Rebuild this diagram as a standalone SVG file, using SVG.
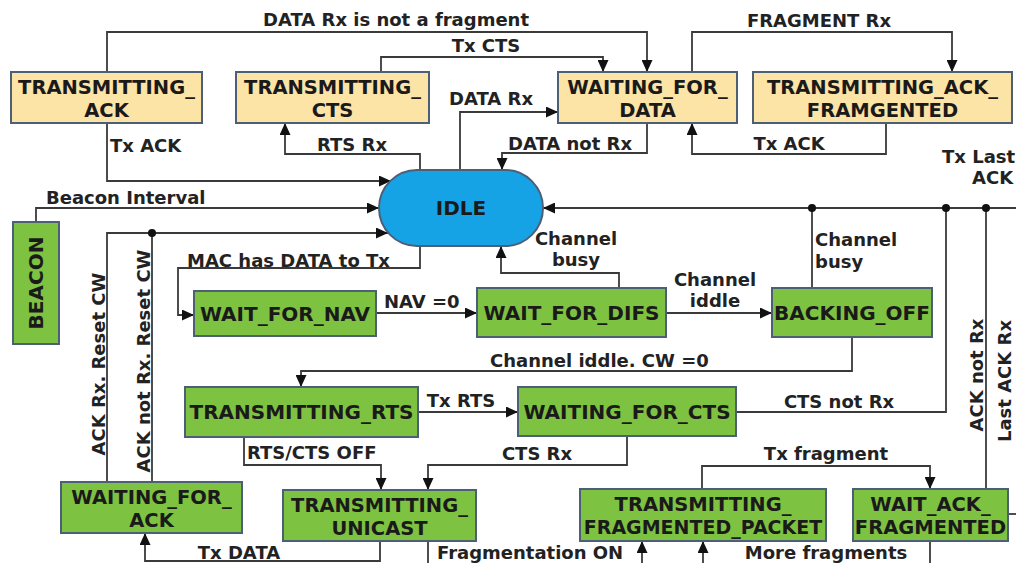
<svg xmlns="http://www.w3.org/2000/svg" width="1016" height="563" viewBox="0 0 1016 563">
<style>
.bg{fill:#ffffff}
.tan{fill:#fce3a6;stroke:#4d5f76;stroke-width:2}
.grn{fill:#7ec242;stroke:#4d5f76;stroke-width:2}
.blu{fill:#16a3e6;stroke:#4d5f76;stroke-width:2}
.nt{font-family:"DejaVu Sans",Verdana,sans-serif;font-weight:bold;font-size:20px;fill:#1a1a1a;text-anchor:middle}
.n2{font-size:19.5px}
.lb{font-family:"DejaVu Sans",Verdana,sans-serif;font-weight:bold;font-size:18px;fill:#222222}
.m{text-anchor:middle}
.ln{fill:none;stroke:#3a3a3a;stroke-width:1.8}
.ar{marker-end:url(#arr)}
.dot{fill:#111111}
</style>
<defs>
<marker id="arr" markerUnits="userSpaceOnUse" markerWidth="12" markerHeight="11" refX="12" refY="5.5" orient="auto">
<path d="M0,0 L12,5.5 L0,11 z" fill="#111111"/>
</marker>
</defs>
<rect class="bg" x="0" y="0" width="1016" height="563"/>

<g id="connectors">
<path class="ln ar" d="M107,72 V32 H647 V72"/>
<path class="ln ar" d="M381,72 V57 H603 V72"/>
<path class="ln ar" d="M692,72 V32 H952 V72"/>
<path class="ln ar" d="M886,123 V154 H692 V123"/>
<path class="ln ar" d="M647,123 V153 H502 V170"/>
<path class="ln ar" d="M460,172 V112 H558"/>
<path class="ln ar" d="M420,172 V154 H285 V123"/>
<path class="ln ar" d="M107,123 V181 H391"/>
<path class="ln ar" d="M36,222 V208 H379"/>
<path class="ln ar" d="M107,482 V233 H388"/>
<path class="ln" d="M152,482 V233"/>
<path class="ln ar" d="M420,244 V268 H178 V315 H194"/>
<path class="ln ar" d="M376,313 H477"/>
<path class="ln ar" d="M619,288 V273 H501 V246"/>
<path class="ln ar" d="M666,313 H772"/>
<path class="ln ar" d="M1016,208 H543"/>
<path class="ln" d="M812,288 V208"/>
<path class="ln" d="M736,412 H946 V208"/>
<path class="ln" d="M986,489 V208"/>
<path class="ln" d="M1008,514 H1016"/>
<path class="ln ar" d="M852,337 V371 H301 V387"/>
<path class="ln ar" d="M418,412 H518"/>
<path class="ln ar" d="M244,437 V465 H381 V490"/>
<path class="ln ar" d="M627,436 V465 H428 V490"/>
<path class="ln ar" d="M380,541 V561 H145 V533"/>
<path class="ln" d="M428,541 V563"/>
<path class="ln ar" d="M642,563 V541"/>
<path class="ln ar" d="M702,489 V466 H930 V489"/>
<path class="ln" d="M930,541 V563"/>
<path class="ln ar" d="M703,563 V541"/>
<circle class="dot" cx="152" cy="233" r="4"/>
<circle class="dot" cx="812" cy="208" r="4"/>
<circle class="dot" cx="946" cy="208" r="4"/>
<circle class="dot" cx="986" cy="208" r="4"/>

<text class="lb m" x="396" y="26">DATA Rx is not a fragment</text>
<text class="lb m" x="486" y="52">Tx CTS</text>
<text class="lb m" x="819" y="27">FRAGMENT Rx</text>
<text class="lb" x="110" y="152">Tx ACK</text>
<text class="lb m" x="352" y="151">RTS Rx</text>
<text class="lb" x="449" y="105">DATA Rx</text>
<text class="lb m" x="570" y="150">DATA not Rx</text>
<text class="lb m" x="789" y="150">Tx ACK</text>
<text class="lb"><tspan x="942" y="163">Tx Last</tspan><tspan x="972" y="184">ACK</tspan></text>
<text class="lb" x="46" y="204">Beacon Interval</text>
<text class="lb" x="187" y="267">MAC has DATA to Tx</text>
<text class="lb m"><tspan x="576" y="245">Channel</tspan><tspan x="576" y="266">busy</tspan></text>
<text class="lb" x="384" y="308">NAV =0</text>
<text class="lb m"><tspan x="715" y="286">Channel</tspan><tspan x="715" y="307">iddle</tspan></text>
<text class="lb"><tspan x="815" y="246">Channel</tspan><tspan x="815" y="268">busy</tspan></text>
<text class="lb" x="490" y="367">Channel iddle. CW =0</text>
<text class="lb m" transform="translate(105,364) rotate(-90)">ACK Rx. Reset CW</text>
<text class="lb m" transform="translate(150,361) rotate(-90)">ACK not Rx. Reset CW</text>
<text class="lb m" transform="translate(983,375) rotate(-90)">ACK not Rx</text>
<text class="lb m" transform="translate(1011,381) rotate(-90)">Last ACK Rx</text>
<text class="lb m" x="461" y="407">Tx RTS</text>
<text class="lb m" x="839" y="408">CTS not Rx</text>
<text class="lb" x="247" y="459">RTS/CTS OFF</text>
<text class="lb m" x="537" y="460">CTS Rx</text>
<text class="lb m" x="826" y="460">Tx fragment</text>
<text class="lb m" x="239" y="559">Tx DATA</text>
<text class="lb" x="437" y="559">Fragmentation ON</text>
<text class="lb m" x="826" y="559">More fragments</text>
</g>

<g id="transmitting_ack">
<rect class="tan" x="11" y="72" width="191" height="51"/>
<text class="nt n2"><tspan x="106.5" y="94">TRANSMITTING_</tspan><tspan x="106.5" y="117">ACK</tspan></text>
</g>
<g id="transmitting_cts">
<rect class="tan" x="236" y="72" width="193" height="51"/>
<text class="nt n2"><tspan x="332.5" y="94">TRANSMITTING_</tspan><tspan x="332.5" y="117">CTS</tspan></text>
</g>
<g id="waiting_for_data">
<rect class="tan" x="558" y="72" width="179" height="51"/>
<text class="nt n2"><tspan x="647.5" y="94">WAITING_FOR_</tspan><tspan x="647.5" y="117">DATA</tspan></text>
</g>
<g id="transmitting_ack_framgented">
<rect class="tan" x="753" y="72" width="259" height="51"/>
<text class="nt n2"><tspan x="882.5" y="94">TRANSMITTING_ACK_</tspan><tspan x="882.5" y="117">FRAMGENTED</tspan></text>
</g>
<g id="idle">
<rect class="blu" x="379" y="170" width="164" height="76" rx="38" ry="38"/>
<text class="nt" x="461" y="215">IDLE</text>
</g>
<g id="beacon">
<rect class="grn" x="13" y="222" width="46" height="122"/>
<text class="nt" transform="translate(43,283) rotate(-90)">BEACON</text>
</g>
<g id="wait_for_nav">
<rect class="grn" x="194" y="291" width="182" height="45"/>
<text class="nt" x="285" y="320.5">WAIT_FOR_NAV</text>
</g>
<g id="wait_for_difs">
<rect class="grn" x="477" y="288" width="189" height="49"/>
<text class="nt" x="571.5" y="319.5">WAIT_FOR_DIFS</text>
</g>
<g id="backing_off">
<rect class="grn" x="772" y="288" width="160" height="49"/>
<text class="nt" x="852" y="319.5">BACKING_OFF</text>
</g>
<g id="transmitting_rts">
<rect class="grn" x="185" y="387" width="233" height="50"/>
<text class="nt" x="301.5" y="419">TRANSMITTING_RTS</text>
</g>
<g id="waiting_for_cts">
<rect class="grn" x="518" y="387" width="218" height="49"/>
<text class="nt" x="627" y="418.5">WAITING_FOR_CTS</text>
</g>
<g id="waiting_for_ack">
<rect class="grn" x="61" y="482" width="181" height="51"/>
<text class="nt n2"><tspan x="151.5" y="504">WAITING_FOR_</tspan><tspan x="151.5" y="527">ACK</tspan></text>
</g>
<g id="transmitting_unicast">
<rect class="grn" x="283" y="490" width="193" height="51"/>
<text class="nt n2"><tspan x="379.5" y="512">TRANSMITTING_</tspan><tspan x="379.5" y="535">UNICAST</tspan></text>
</g>
<g id="transmitting_fragmented_packet">
<rect class="grn" x="580" y="489" width="246" height="52"/>
<text class="nt n2"><tspan x="703" y="511">TRANSMITTING_</tspan><tspan x="703" y="534" style="font-size:19px">FRAGMENTED_PACKET</tspan></text>
</g>
<g id="wait_ack_fragmented">
<rect class="grn" x="853" y="489" width="155" height="52"/>
<text class="nt n2"><tspan x="930.5" y="511">WAIT_ACK_</tspan><tspan x="930.5" y="534">FRAGMENTED</tspan></text>
</g>
</svg>
